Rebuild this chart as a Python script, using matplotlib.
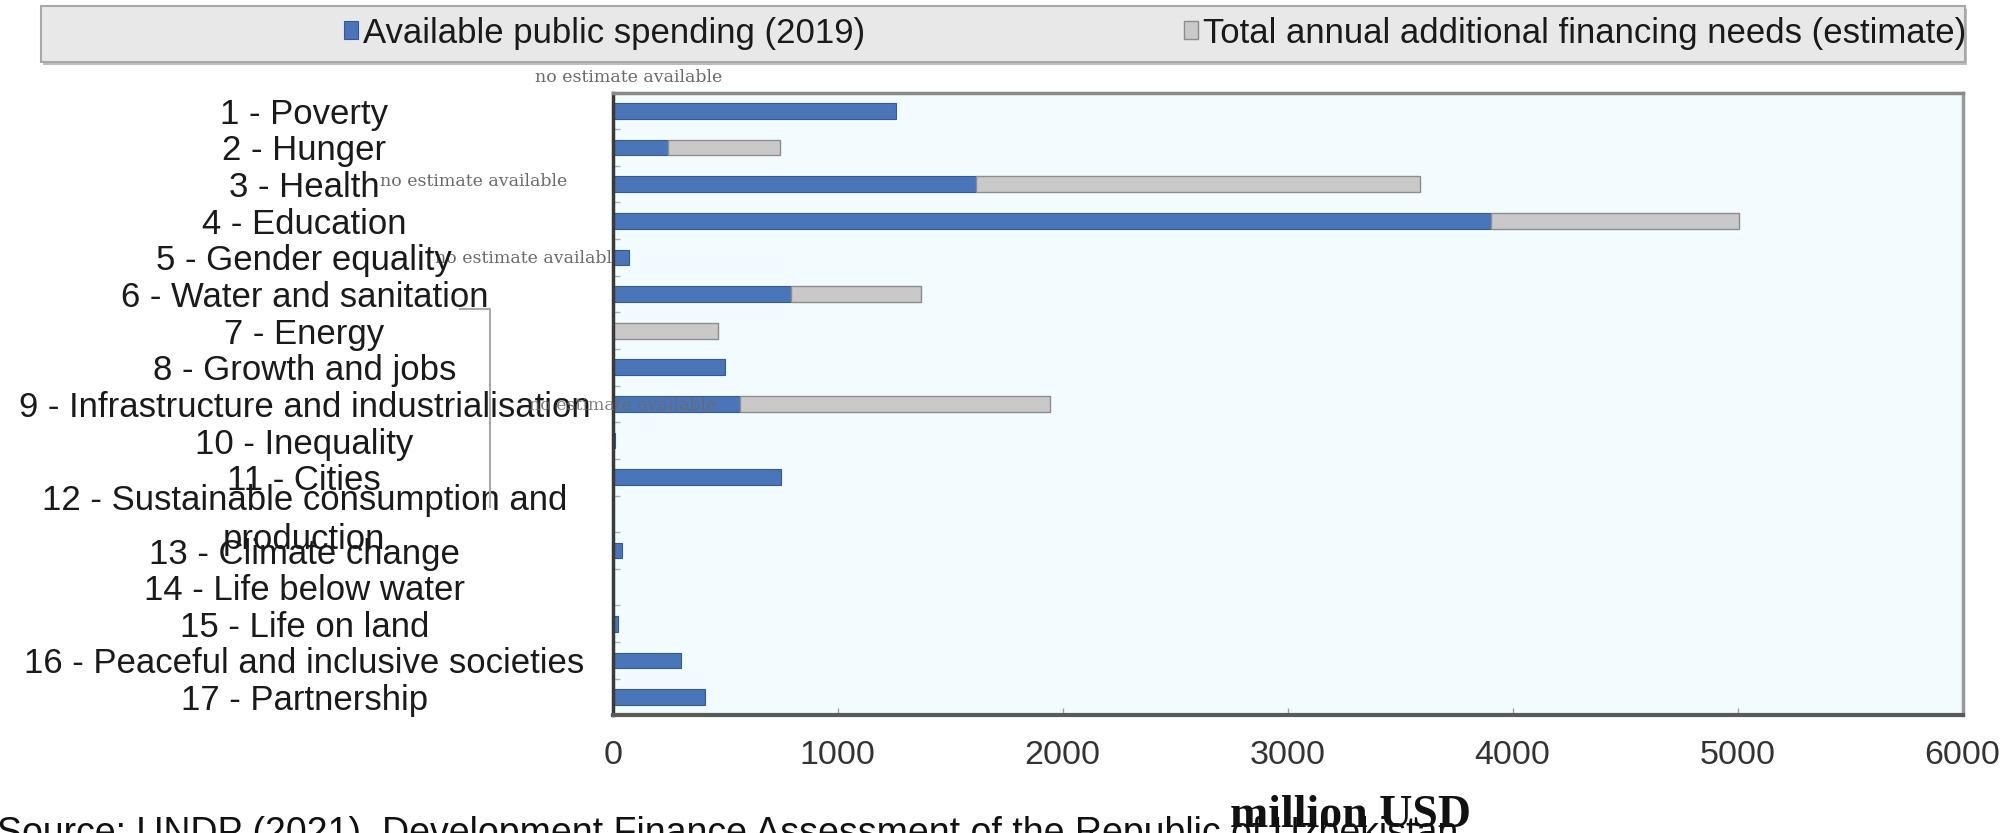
import matplotlib
matplotlib.use("Agg")
import matplotlib.pyplot as plt
from matplotlib.patches import Rectangle
from matplotlib.lines import Line2D
import numpy as np

plt.rcParams["font.family"] = ["Liberation Sans", "DejaVu Sans"]

# SDG categories and spending / financing-need figures (million USD)
categories = [
    "1 - Poverty", "2 - Hunger", "3 - Health", "4 - Education",
    "5 - Gender equality", "6 - Water and sanitation", "7 - Energy",
    "8 - Growth and jobs", "9 - Infrastructure and industrialisation",
    "10 - Inequality", "11 - Cities",
    "12 - Sustainable consumption and\nproduction", "13 - Climate change",
    "14 - Life below water", "15 - Life on land",
    "16 - Peaceful and inclusive societies", "17 - Partnership",
]
public_spending = [1260, 245, 1617, 3905, 72, 791, 0, 500, 565, 9, 747, 0, 43, 0, 24, 304, 410]
additional_needs = [0, 500, 1970, 1100, 0, 579, 467, 0, 1380, 0, 0, 0, 0, 0, 0, 0, 0]
x_ticks = [0, 1000, 2000, 3000, 4000, 5000, 6000]
series_labels = ["Available public spending (2019)",
                 "Total annual additional financing needs (estimate)"]
note_text = "no estimate available"

W, H = 2014, 833
fig = plt.figure(figsize=(W / 100, H / 100), dpi=100)
fig.patch.set_facecolor("white")

ax_l, ax_r, ax_t, ax_b = 612.7, 1962.6, 92.5, 715.4
ax = fig.add_axes([ax_l / W, 1 - ax_b / H, (ax_r - ax_l) / W, (ax_b - ax_t) / H])
ax.set_facecolor("#f2fbfe")

y = np.arange(len(categories))
pub = np.array(public_spending, dtype=float)
add = np.array(additional_needs, dtype=float)

blue = "#4a76b9"
grey = "#c9c9c9"
m_pub = pub > 0
m_add = add > 0
bars_pub = ax.barh(y[m_pub], pub[m_pub], height=0.43, color=blue,
                   edgecolor="#37598f", linewidth=0.8, zorder=2)
bars_add = ax.barh(y[m_add], add[m_add], left=pub[m_add], height=0.43,
                   color=grey, edgecolor="#8c8c8c", linewidth=1.0, zorder=2)

ax.set_xlim(0, 6000)
ax.set_ylim(len(categories) - 0.5, -0.5)

# category labels, centred in the left margin
ax.set_yticks(y, categories)
for lab in ax.get_yticklabels():
    lab.set_horizontalalignment("center")
    lab.set_multialignment("center")
    lab.set_color("#1a1a1a")
    lab.set_fontsize(25)
ax.tick_params(axis="y", which="major", length=0, pad=222)
ax.set_yticks(np.arange(0.5, len(categories) - 1, 1), minor=True)
ax.tick_params(axis="y", which="minor", direction="in", length=5,
               width=1, color="#b0b0b0")

ax.set_xticks(x_ticks)
ax.tick_params(axis="x", direction="in", length=5, width=1, color="#a0a0a0",
               pad=18, labelcolor="#333333")
for lab in ax.get_xticklabels():
    lab.set_fontfamily(["Liberation Sans Narrow", "Liberation Sans"])
    lab.set_fontsize(24.5)

ax.spines["left"].set_color("#3a3a3a")
ax.spines["left"].set_linewidth(2.5)
ax.spines["bottom"].set_color("#5a5a5a")
ax.spines["bottom"].set_linewidth(3)
ax.spines["top"].set_color("#8a8a8a")
ax.spines["top"].set_linewidth(2.5)
ax.spines["right"].set_color("#9a9a9a")
ax.spines["right"].set_linewidth(2.5)

# "no estimate available" notes
note_kw = dict(fontfamily="DejaVu Serif", fontsize=12.5, color="#6a6a6a",
               ha="center", va="center", clip_on=False)
ax.text(72, -0.92, note_text, zorder=3, **note_kw)
ax.text(-616, 1.92, note_text, zorder=3, **note_kw)
ax.text(-372, 4.04, note_text, zorder=1, **note_kw)
ax.text(46, 8.03, note_text, zorder=3, alpha=0.85, **note_kw)

# axis title
ax.set_xlabel("million USD", fontfamily="Liberation Serif", fontweight="bold",
              fontsize=33, color="#111111", va="baseline")
ax.xaxis.set_label_coords((1351 - ax_l) / (ax_r - ax_l), (ax_b - 827) / (ax_b - ax_t))
ax.xaxis.label.set_zorder(5)

# leftover frame line beside the labels
fig.add_artist(Line2D([460 / W, 490 / W, 490 / W],
                      [1 - 309 / H, 1 - 309 / H, 1 - 507 / H],
                      transform=fig.transFigure, color="#a8a8a8", lw=1.5))

# legend band
lx0, lx1, ly0, ly1 = 41, 1965, 6.4, 61.7
fig.add_artist(Rectangle((lx0 / W + 2 / W, 1 - (ly1 + 3) / H), (lx1 - lx0) / W, (ly1 - ly0) / H,
                         transform=fig.transFigure, fc="#bdbdbd", ec="none", zorder=0))
fig.add_artist(Rectangle((lx0 / W, 1 - ly1 / H), (lx1 - lx0) / W, (ly1 - ly0) / H,
                         transform=fig.transFigure, fc="#e8e8e8", ec="#a8a8a8",
                         lw=1.5, zorder=0.5))
leg = fig.legend([bars_pub, bars_add], series_labels, loc="center left",
                 bbox_to_anchor=(344 / W, 1 - 33 / H), ncol=2, frameon=False,
                 fontsize=25, handlelength=0.4, handleheight=0.4,
                 handletextpad=0.14, columnspacing=9.2, borderpad=0,
                 borderaxespad=0)
for t in leg.get_texts():
    t.set_color("#1a1a1a")

# source line
fig.text(-3 / W, -11 / H, "Source: UNDP (2021), Development Finance Assessment of the "
         "Republic of Uzbekistan", fontsize=27, color="#111111",
         ha="left", va="baseline", zorder=1)

fig.savefig("out.png", dpi=100)
